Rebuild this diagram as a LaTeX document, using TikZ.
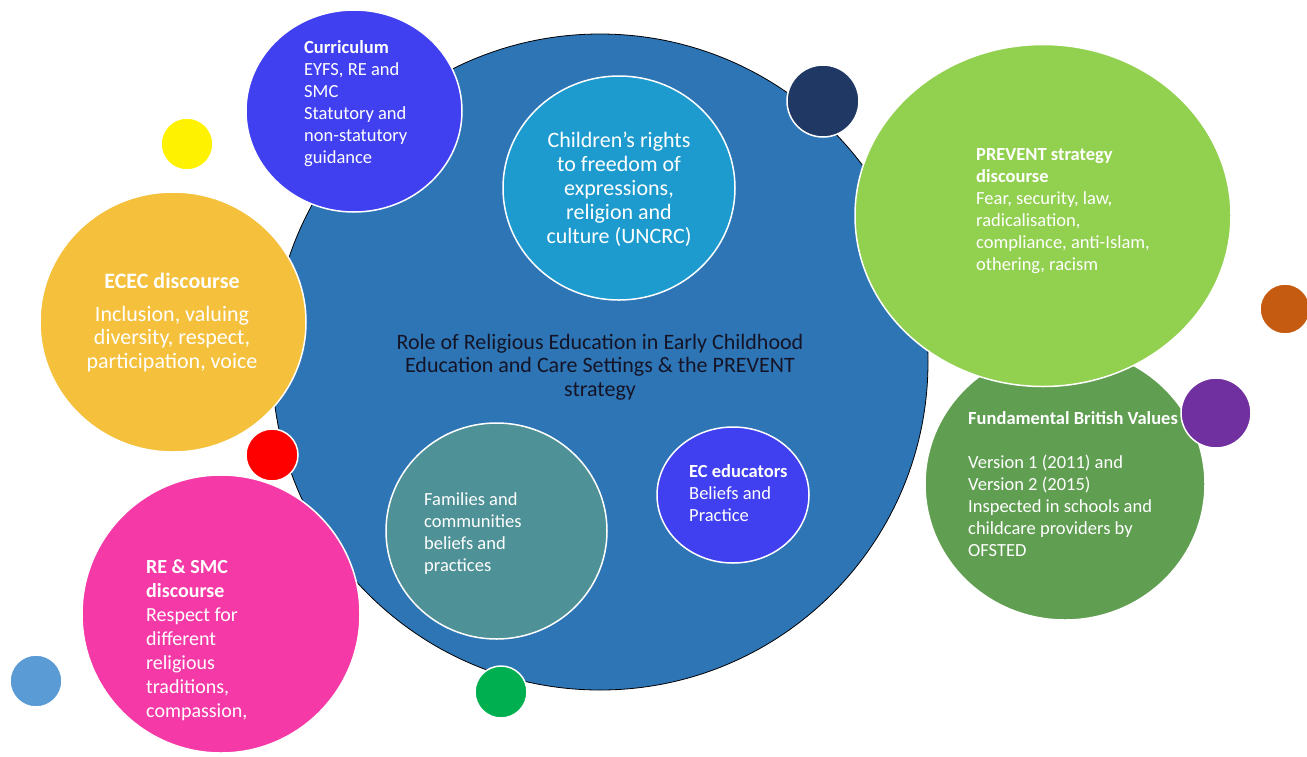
\documentclass[tikz,border=0pt]{standalone}
\usepackage{fontspec}
\setmainfont{Carlito}
\usepackage{tikz}
\usetikzlibrary{positioning}
\definecolor{main blue}{RGB}{46,117,182}
\definecolor{violet blue}{RGB}{64,64,240}
\definecolor{sky blue}{RGB}{30,155,206}
\definecolor{deep navy}{RGB}{31,56,100}
\definecolor{lime green}{RGB}{146,208,80}
\definecolor{moss green}{RGB}{96,158,82}
\definecolor{warm gold}{RGB}{245,192,60}
\definecolor{hot pink}{RGB}{245,58,168}
\definecolor{teal grey}{RGB}{78,145,150}
\definecolor{rust}{RGB}{197,90,17}
\definecolor{plum}{RGB}{112,48,160}
\definecolor{soft blue}{RGB}{91,155,213}
\definecolor{leaf green}{RGB}{0,176,80}
\definecolor{title ink}{RGB}{20,20,38}
\newcommand{\bubblefont}[2]{\fontsize{#1}{#2}\selectfont}
\tikzset{
	bubble/.style={draw=white, line width=1.5pt},
	body/.style={text=white, inner sep=0pt, anchor=base west, align=left},
	middle/.style={inner sep=0pt, anchor=base, align=center}
}

\begin{document}
\begin{tikzpicture}[x=1pt, y=-1pt]
			\useasboundingbox (0,0) rectangle (1307,756);
			\clip (0,0) rectangle (1307,756);
			% the big circle (text nodes sit on their last baseline)
			\begin{scope}
				\filldraw[fill=main blue, draw=black, line width=0.8pt] (600,362) circle (328);
				\filldraw[bubble, fill=sky blue] (619,188) ellipse (116 and 112);
				\filldraw[bubble, fill=teal grey] (496.5,531) ellipse (110.5 and 108);
				\filldraw[bubble, fill=violet blue] (733,495) ellipse (76 and 68);
			\end{scope}
			\node[middle, text=white, font=\bubblefont{22}{24}] (rights) at (619,243)
				{Children’s rights\\to freedom of\\expressions,\\religion and\\culture (UNCRC)};
			\node[middle, text=title ink, font=\bubblefont{22}{23.5}] (title) at (600,396)
				{Role of Religious Education in Early Childhood\\Education and Care Settings \& the PREVENT\\strategy};
			\node[body, font=\bubblefont{18.5}{22}] (families) at (424,571)
				{Families and\\communities\\beliefs and\\practices};
			\node[body, font=\bubblefont{18.5}{22}] (educators) at (689,521)
				{\textbf{EC educators}\\Beliefs and\\Practice};
			% curriculum
			\filldraw[bubble, fill=violet blue] (354,111) ellipse (108 and 101);
			\node[body, font=\bubblefont{18.5}{22}] (curriculum) at (304,163)
				{\textbf{Curriculum}\\EYFS, RE and\\SMC\\Statutory and\\non-statutory\\guidance};
			\filldraw[bubble, fill=yellow] (187,144) circle (26);
			\filldraw[bubble, fill=deep navy] (823,101) circle (36);
			% ECEC
			\filldraw[bubble, fill=warm gold] (173,322) ellipse (133 and 130);
			\node[middle, text=white, font=\bubblefont{22}{23.5}] (ecec) at (172,368)
				{\textbf{ECEC discourse}\\[9pt]Inclusion, valuing\\diversity, respect,\\participation, voice};
			\filldraw[bubble, fill=red] (272,455) circle (26);
			% RE and SMC
			\filldraw[bubble, fill=hot pink] (221,614) circle (139);
			\node[body, font=\bubblefont{20}{24}] (resmc) at (146,717)
				{\textbf{RE \& SMC}\\\textbf{discourse}\\Respect for\\different\\religious\\traditions,\\compassion,};
			\filldraw[bubble, fill=soft blue] (36,681) circle (26);
			\filldraw[bubble, fill=leaf green] (501,692) circle (26);
			% British values and PREVENT
			\filldraw[bubble, fill=moss green] (1065,484) ellipse (140 and 136);
			\node[body, font=\bubblefont{18.5}{22}] (values) at (968,556)
				{\textbf{Fundamental British Values}\\[22pt]Version 1 (2011) and\\Version 2 (2015)\\Inspected in schools and\\childcare providers by\\OFSTED};
			\filldraw[bubble, fill=lime green] (1043,215.5) ellipse (188 and 171);
			\node[body, font=\bubblefont{18.5}{22}] (prevent) at (976,270)
				{\textbf{PREVENT strategy}\\\textbf{discourse}\\Fear, security, law,\\radicalisation,\\compliance, anti-Islam,\\othering, racism};
			\filldraw[bubble, fill=plum] (1216,413) circle (35);
			\filldraw[bubble, fill=rust] (1285,309) circle (25);
		\end{tikzpicture}
\end{document}
